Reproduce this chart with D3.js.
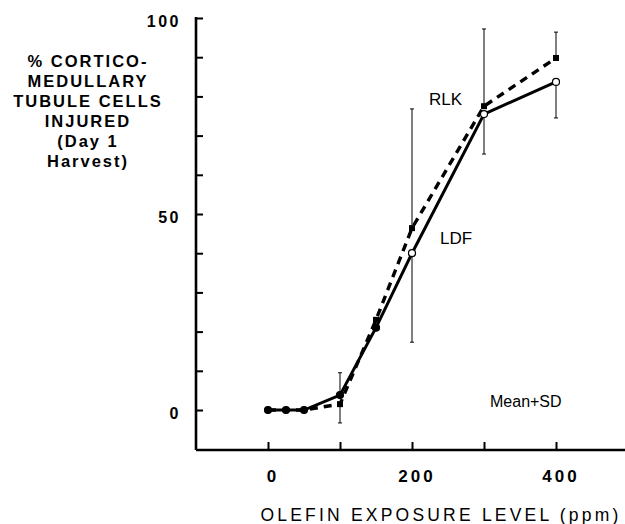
<!DOCTYPE html>
<html>
<head>
<meta charset="utf-8">
<script src="https://cdn.jsdelivr.net/npm/d3@7"></script>
<style>
  body { margin: 0; background: #fff; }
  svg { display: block; font-family: "Liberation Sans", Arial, Helvetica, sans-serif; }
</style>
</head>
<body>
<div id="chart"></div>
<script>
// Olefin dose (ppm) and % injured tubule cells
const dose = [0, 25, 50, 100, 150, 200, 300, 400];
const ldf = [0, 0, 0, 3.8, 21, 40, 75.5, 83.7];
const rlk = [0, 0, 0, 1.5, 23, 46.4, 77.5, 89.8];

// SD whiskers: dose, lower end, upper end
const errDose = [100, 200, 300, 400];
const errLow = [-3.3, 17.3, 65.3, 74.5];
const errHigh = [9.5, 76.8, 97.2, 96.4];

const xTickLabels = [0, 200, 400];
const yTickLabels = [0, 50, 100];
const yTitle = ["% CORTICO-", "MEDULLARY", "TUBULE CELLS", "INJURED", "(Day 1", "Harvest)"];

const width = 625, height = 524;

const svg = d3.select("#chart").append("svg")
    .attr("width", width)
    .attr("height", height);

const x = d3.scaleLinear().domain([-100, 500]).range([196, 628]);
const y = d3.scaleLinear().domain([-10.2, 100]).range([450, 18]);

// axes
const yAxis = d3.axisRight(y)
    .tickValues(d3.range(0, 101, 10))
    .tickSize(7)
    .tickFormat("");
const gy = svg.append("g")
    .attr("transform", `translate(${x(-100)},0)`)
    .call(yAxis);
gy.select(".domain").attr("d", `M0,${y(100) - 1}V${y(-10.2)}`);

const xAxis = d3.axisTop(x)
    .tickValues([0, 100, 200, 300, 400])
    .tickSize(8)
    .tickFormat("");
const gx = svg.append("g")
    .attr("transform", `translate(0,${y(-10.2)})`)
    .call(xAxis);
gx.select(".domain").attr("d", `M${x(-100)},0H${width}`);

svg.selectAll(".domain").attr("stroke", "#000").attr("stroke-width", 2.6);
svg.selectAll(".tick line").attr("stroke", "#000").attr("stroke-width", 2);

// tick labels
svg.selectAll(".ylab")
    .data(yTickLabels)
    .enter().append("text")
    .attr("x", 181)
    .attr("y", d => y(d) + 9)
    .attr("text-anchor", "end")
    .style("font-size", "16px")
    .style("font-weight", "bold")
    .style("letter-spacing", "2.5px")
    .text(d => d);

svg.selectAll(".xlab")
    .data(xTickLabels)
    .enter().append("text")
    .attr("x", d => x(d) + 5)
    .attr("y", 482)
    .attr("text-anchor", "middle")
    .style("font-size", "17px")
    .style("font-weight", "bold")
    .style("letter-spacing", "3px")
    .text(d => d);

// axis titles
svg.append("text")
    .attr("x", 441)
    .attr("y", 521)
    .attr("text-anchor", "middle")
    .style("font-size", "17.5px")
    .style("letter-spacing", "3.2px")
    .text("OLEFIN EXPOSURE LEVEL (ppm)");

svg.selectAll(".ytitle")
    .data(yTitle)
    .enter().append("text")
    .attr("x", 88)
    .attr("y", (d, i) => 67 + i * 20)
    .attr("text-anchor", "middle")
    .style("font-size", "16.5px")
    .style("font-weight", "bold")
    .style("letter-spacing", "2px")
    .text(d => d);

// error bars: upper piece from the higher mean, lower piece from the lower mean
const errData = errDose.map((d, i) => {
    const j = dose.indexOf(d);
    return { d: d, lo: errLow[i], hi: errHigh[i],
             top: Math.max(ldf[j], rlk[j]), bot: Math.min(ldf[j], rlk[j]) };
});

const eb = svg.append("g").attr("stroke", "#000").attr("stroke-width", 1);
errData.forEach(e => {
    eb.append("line").attr("x1", x(e.d)).attr("x2", x(e.d)).attr("y1", y(e.top)).attr("y2", y(e.hi));
    eb.append("line").attr("x1", x(e.d)).attr("x2", x(e.d)).attr("y1", y(e.bot)).attr("y2", y(e.lo));
    eb.append("line").attr("x1", x(e.d) - 2).attr("x2", x(e.d) + 2).attr("y1", y(e.hi)).attr("y2", y(e.hi));
    eb.append("line").attr("x1", x(e.d) - 2).attr("x2", x(e.d) + 2).attr("y1", y(e.lo)).attr("y2", y(e.lo));
});

// lines
const line = d3.line().x(d => x(d[0])).y(d => y(d[1]));

svg.append("path")
    .datum(dose.map((d, i) => [d, rlk[i]]))
    .attr("d", line)
    .attr("fill", "none")
    .attr("stroke", "#000")
    .attr("stroke-width", 3.4)
    .attr("stroke-dasharray", "8,6");

svg.append("path")
    .datum(dose.map((d, i) => [d, ldf[i]]))
    .attr("d", line)
    .attr("fill", "none")
    .attr("stroke", "#000")
    .attr("stroke-width", 3);

// markers
svg.selectAll(".sq")
    .data(dose.map((d, i) => [d, rlk[i]]))
    .enter().append("rect")
    .attr("x", d => x(d[0]) - 3)
    .attr("y", d => y(d[1]) - 3)
    .attr("width", 6)
    .attr("height", 6)
    .attr("fill", "#000");

svg.selectAll(".circ")
    .data(dose.map((d, i) => [d, ldf[i]]))
    .enter().append("circle")
    .attr("cx", d => x(d[0]))
    .attr("cy", d => y(d[1]))
    .attr("r", 3.5)
    .attr("fill", d => d[0] >= 200 ? "#fff" : "#000")
    .attr("stroke", "#000")
    .attr("stroke-width", 1.2);

// series labels
svg.append("text").attr("x", 429).attr("y", 105)
    .style("font-size", "17px").text("RLK");
svg.append("text").attr("x", 440).attr("y", 244)
    .style("font-size", "17px").text("LDF");
svg.append("text").attr("x", 490).attr("y", 407)
    .style("font-size", "16px").text("Mean+SD");
</script>
</body>
</html>
